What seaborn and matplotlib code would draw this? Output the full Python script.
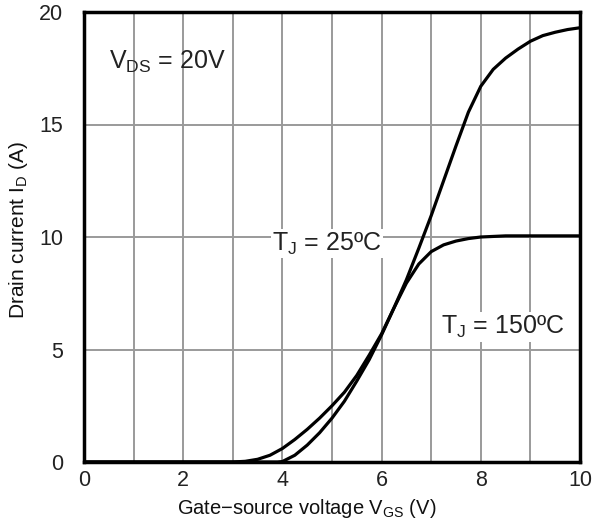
import matplotlib
matplotlib.use("Agg")
import matplotlib.pyplot as plt
import seaborn as sns
import pandas as pd

# Transfer characteristics
vgs_150 = [0.0, 3.0, 3.25, 3.5, 3.75, 4.0, 4.25, 4.5, 4.75, 5.0, 5.25, 5.5, 5.75, 6.0,
           6.25, 6.5, 6.75, 7.0, 7.25, 7.5, 7.75, 8.0, 8.5, 9.0, 9.5, 10.0]
id_150 = [0.0, 0.0, 0.03, 0.12, 0.3, 0.6, 1.0, 1.45, 1.95, 2.5, 3.1, 3.85, 4.75, 5.7,
          6.85, 7.95, 8.8, 9.35, 9.65, 9.82, 9.93, 10.0, 10.05, 10.05, 10.05, 10.05]

vgs_25 = [0.0, 3.9, 4.0, 4.25, 4.5, 4.75, 5.0, 5.25, 5.5, 5.75, 6.0, 6.25, 6.5, 6.75,
          7.0, 7.25, 7.5, 7.75, 8.0, 8.25, 8.5, 8.75, 9.0, 9.25, 9.5, 9.75, 10.0]
id_25 = [0.0, 0.0, 0.02, 0.3, 0.75, 1.3, 1.95, 2.7, 3.6, 4.55, 5.65, 6.85, 8.1, 9.5,
         10.95, 12.5, 14.05, 15.55, 16.7, 17.45, 17.95, 18.35, 18.7, 18.95, 19.1, 19.22, 19.3]

x_ticks = [0, 2, 4, 6, 8, 10]
y_ticks = [0, 5, 10, 15, 20]

sns.set_theme(style="white")
plt.rcParams["font.family"] = ["Liberation Sans", "DejaVu Sans"]
plt.rcParams["mathtext.fontset"] = "custom"
plt.rcParams["mathtext.rm"] = "Liberation Sans"
plt.rcParams["mathtext.it"] = "Liberation Sans"

df = pd.concat([
    pd.DataFrame({"vgs": vgs_150, "id": id_150, "tj": "150"}),
    pd.DataFrame({"vgs": vgs_25, "id": id_25, "tj": "25"}),
])

fig = plt.figure(figsize=(5.96, 5.2), dpi=100)
ax = fig.add_axes([84 / 596, 1 - 462 / 520, (580 - 84) / 596, (462 - 12) / 520])

sns.lineplot(data=df, x="vgs", y="id", hue="tj", palette=["black", "black"],
             linewidth=2.3, legend=False, ax=ax, zorder=3)

ax.set_xlim(0, 10)
ax.set_ylim(0, 20)
ax.set_xticks(x_ticks)
ax.set_xticks(range(0, 11), minor=True)
ax.set_yticks(y_ticks)
ax.grid(True, which="both", color="#9a9a9a", linewidth=1.4)
ax.tick_params(which="both", length=0, labelsize=15.5, colors="#222222")
ax.tick_params(axis="x", pad=6)
ax.tick_params(axis="y", pad=15)
for s in ax.spines.values():
    s.set_visible(True)
    s.set_color("black")
    s.set_linewidth(2.5)
    s.set_zorder(4)

ax.set_xlabel(r"Gate$-$source voltage V$_{\mathrm{GS}}$ (V)", fontsize=14.5, color="#111111")
ax.xaxis.set_label_coords(0.45, -0.077)
ax.set_ylabel(r"Drain current I$_{\mathrm{D}}$ (A)", fontsize=15, color="#111111")
ax.yaxis.set_label_coords(-0.108, 0.516)

ax.text(0.5, 17.8, r"V$_{\mathrm{DS}}$ = 20V", fontsize=18, color="#222222",
        va="center", ha="left", zorder=5)
ax.text(3.8, 9.7, r"T$_{\mathrm{J}}$ = 25ºC", fontsize=18, color="#222222",
        va="center", ha="left", zorder=5,
        bbox=dict(facecolor="white", edgecolor="none", pad=1.0))
ax.text(7.2, 6.0, r"T$_{\mathrm{J}}$ = 150ºC", fontsize=18, color="#222222",
        va="center", ha="left", zorder=5,
        bbox=dict(facecolor="white", edgecolor="none", pad=1.0))

fig.savefig("out.png", dpi=100)
